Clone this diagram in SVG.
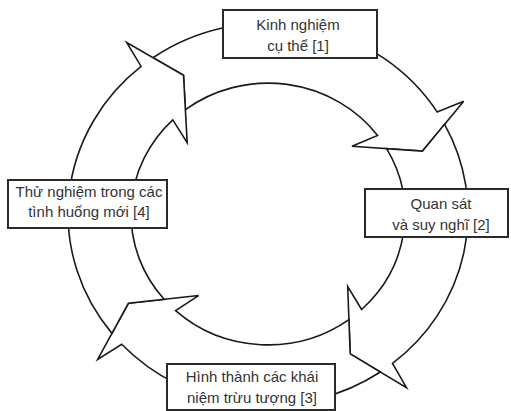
<svg xmlns="http://www.w3.org/2000/svg" width="511" height="411" viewBox="0 0 511 411">
<style>
.seg{fill:#fff;stroke:#1a1a1a;stroke-width:1.6;stroke-linejoin:miter;vector-effect:non-scaling-stroke}
.box{fill:#fff;stroke:#2a2a2a;stroke-width:2}
.lbl{font-family:"Liberation Sans",Arial,sans-serif;font-size:15px;fill:#333;text-anchor:middle}
</style>
<rect width="511" height="411" fill="#fff"/>
<g id="connectors" transform="translate(268 214) scale(1 0.955)">
<path id="arrow1" class="seg" d="M -115.0,-163.6 A 200 200 0 0 1 169.1,-106.9 L 195.7,-118.0 L 154.5,-65.9 L 84.0,-71.0 L 109.6,-82.3 A 137 137 0 0 0 -82.6,-109.3 L -84.5,-145.2 Z"/>
<path id="arrow2" class="seg" d="M 176.6,-93.9 A 200 200 0 0 1 124.5,156.5 L 138.5,181.8 L 82.2,146.5 L 79.7,75.9 L 93.6,100.0 A 137 137 0 0 0 118.6,-68.5 L 154.5,-65.9 Z"/>
<path id="arrow3" class="seg" d="M 112.4,165.4 A 200 200 0 0 1 -146.3,136.4 L -170.3,152.3 L -139.6,93.5 L -69.4,85.4 L -92.4,101.2 A 137 137 0 0 0 80.9,110.6 L 82.2,146.5 Z"/>
<path id="arrow4" class="seg" d="M -156.1,125.0 A 200 200 0 0 1 -126.9,-154.5 L -141.3,-179.6 L -84.5,-145.2 L -80.8,-74.6 L -95.2,-98.5 A 137 137 0 0 0 -103.9,89.3 L -139.6,93.5 Z"/>
</g>
<g id="node1">
<rect class="box" x="223" y="10" width="154" height="48"/>
<text class="lbl" x="298" y="29.5">Kinh nghiệm</text>
<text class="lbl" x="298" y="50.5">cụ thể [1]</text>
</g>
<g id="node2">
<rect class="box" x="365" y="189" width="143" height="48"/>
<text class="lbl" x="441" y="208.5">Quan sát</text>
<text class="lbl" x="441" y="229.5">và suy nghĩ [2]</text>
</g>
<g id="node3">
<rect class="box" x="167" y="364" width="168" height="46"/>
<text class="lbl" x="252" y="382">Hình thành các khái</text>
<text class="lbl" x="252" y="403">niệm trừu tượng [3]</text>
</g>
<g id="node4">
<rect class="box" x="8" y="180" width="159" height="48"/>
<text class="lbl" x="89" y="197">Thử nghiệm trong các</text>
<text class="lbl" x="89" y="217">tình huống mới [4]</text>
</g>
</svg>
